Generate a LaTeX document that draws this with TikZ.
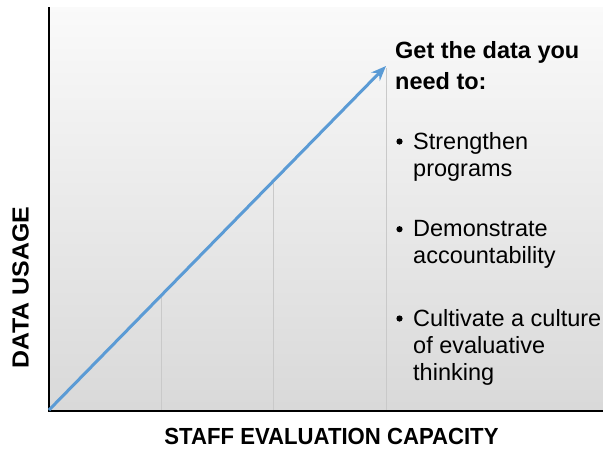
\documentclass[tikz,border=0pt]{standalone}
\usepackage{fontspec}
\setmainfont{Liberation Sans}
\usetikzlibrary{arrows.meta}
\definecolor{growblue}{HTML}{5B9BD5}
\definecolor{dropgray}{HTML}{C9C9C9}
\tikzset{
	axisline/.style={line width=2pt, black},
	dropline/.style={line width=0.8pt, dropgray},
	growth/.style={line width=3pt, growblue, -{Stealth[length=15pt,width=12pt,inset=5pt]}},
	bullettext/.style={anchor=base west, align=left, inner sep=0pt, font=\fontsize{23.5}{27}\selectfont},
	axislabel/.style={inner sep=0pt, font=\fontsize{23.3}{26}\selectfont\bfseries}
}
\begin{document}
\begin{tikzpicture}[x=1pt,y=-1pt]
\useasboundingbox (0,0) rectangle (603,448);
\shade[top color=black!2, bottom color=black!15] (49,7) rectangle (603,411);
\coordinate (o) at (49,410);
\coordinate (t) at (386,66);
\path (o) -- (t) coordinate[pos=1/3] (p1) coordinate[pos=2/3] (p2);
% drop lines down to the axis
\draw[dropline] (p1) -- (p1 |- o);
\draw[dropline] (p2) -- (p2 |- o);
\draw[dropline] (386,68) -- (386,410);
\draw[axisline] (49,7) -- (49,412);
\draw[axisline] (48,411) -- (603,411);
\draw[growth] (o) -- (t);
% labels (base anchor sits on the last line)
\node[axislabel] (xlab) at (331.5,436.5) {\scalebox{0.95}[1]{STAFF EVALUATION CAPACITY}};
\node[axislabel, rotate=90] (ylab) at (20.5,287.5) {\scalebox{1.07}[1]{DATA USAGE}};
\node[bullettext, font=\fontsize{23.5}{31}\selectfont\bfseries] (head) at (395,89.3) {Get the data you\\need to:};
\node[bullettext] (itemA) at (413,176) {Strengthen\\programs};
\node[bullettext] (itemB) at (413,263.7) {Demonstrate\\accountability};
\node[bullettext] (itemC) at (413,380) {Cultivate a culture\\of evaluative\\thinking};
\foreach \n/\k in {itemA/1,itemB/1,itemC/2}
	\fill (\n.base west) ++(-13.5,-7.5-27*\k) circle (3.1pt);
\end{tikzpicture}
\end{document}
